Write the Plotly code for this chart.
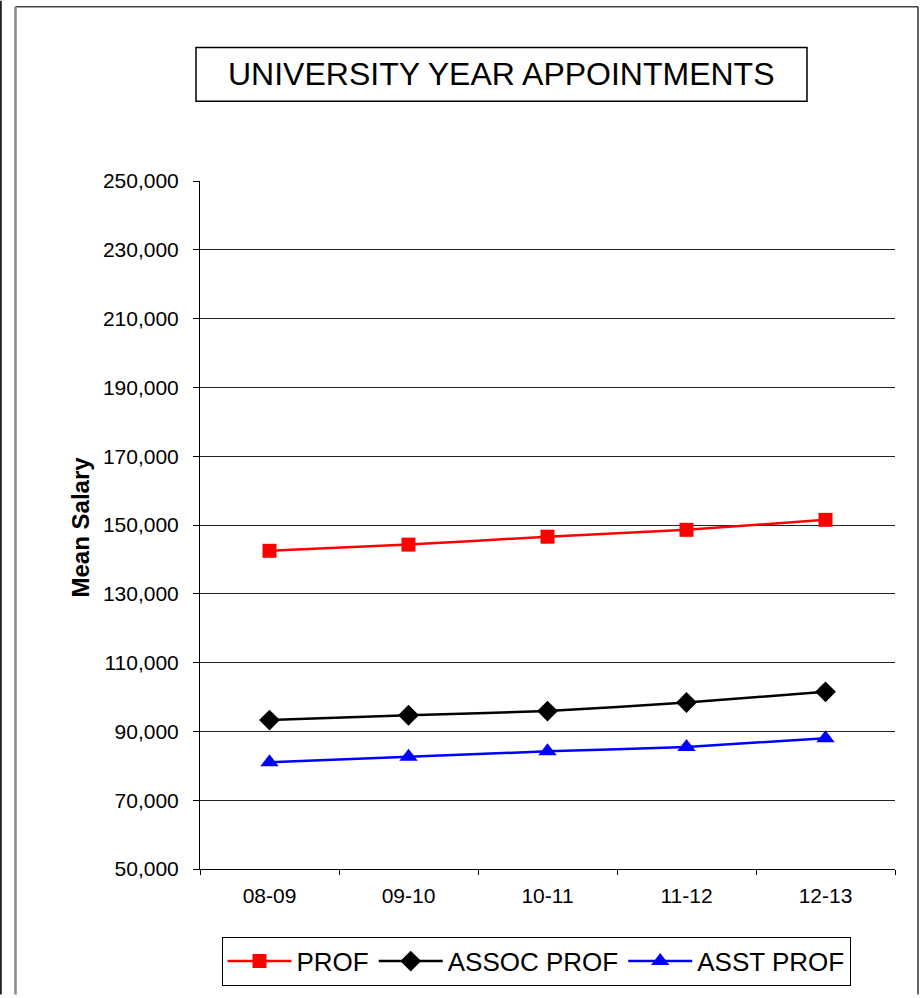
import plotly.graph_objects as go

years = ["08-09", "09-10", "10-11", "11-12", "12-13"]
prof = [142500, 144300, 146600, 148600, 151500]
assoc_prof = [93300, 94700, 95900, 98400, 101500]
asst_prof = [81000, 82600, 84200, 85500, 88000]
y_ticks = [50000, 70000, 90000, 110000, 130000, 150000, 170000, 190000, 210000, 230000, 250000]

W, H = 923, 998
L, R, T, B = 200, 28, 181, 126
PW, PH = W - L - R, H - T - B

def px(x):
    return (x - L) / PW

def py(y):
    return (H - B - y) / PH

FONT = "Liberation Sans, Arial, sans-serif"

fig = go.Figure()
series = [
    ("PROF", prof, "#FF0000", "square", 14),
    ("ASSOC PROF", assoc_prof, "#000000", "diamond", 16),
    ("ASST PROF", asst_prof, "#0000FF", "triangle-up", 16),
]
for name, vals, col, sym, sz in series:
    fig.add_trace(go.Scatter(
        x=years, y=vals, name=name, mode="lines+markers",
        line=dict(color=col, width=2.5, shape="spline", smoothing=0.4),
        marker=dict(symbol=sym, size=sz, color=col, line=dict(width=0)),
    ))

shapes = [
    dict(type="line", xref="paper", yref="paper", x0=px(0.8), x1=px(0.8), y0=py(0), y1=py(998),
         line=dict(color="#222222", width=2)),
    dict(type="line", xref="paper", yref="paper", x0=px(15.5), x1=px(918), y0=py(6), y1=py(6),
         line=dict(color="#444444", width=1.5)),
    dict(type="line", xref="paper", yref="paper", x0=px(918), x1=px(918), y0=py(6), y1=py(998),
         line=dict(color="#333333", width=1.5)),
    dict(type="line", xref="paper", yref="paper", x0=px(15.5), x1=px(15.5), y0=py(6), y1=py(998),
         line=dict(color="#888888", width=2.5)),
    dict(type="rect", xref="paper", yref="paper", x0=px(196), x1=px(807), y0=py(47), y1=py(101),
         line=dict(color="#000000", width=1.5), fillcolor="white"),
]

annotations = [
    dict(text="UNIVERSITY YEAR APPOINTMENTS", xref="paper", yref="paper",
         x=px(501.5), y=py(74), xanchor="center", yanchor="middle", showarrow=False,
         font=dict(family=FONT, size=32, color="black")),
    dict(text="<b>Mean Salary</b>", xref="paper", yref="paper",
         x=px(80), y=py(529), xanchor="center", yanchor="middle", showarrow=False,
         textangle=-90, font=dict(family=FONT, size=24, color="black")),
]

fig.update_layout(
    width=W, height=H,
    margin=dict(l=L, r=R, t=T, b=B, pad=0),
    paper_bgcolor="white", plot_bgcolor="white",
    font=dict(family=FONT, color="black"),
    shapes=shapes, annotations=annotations,
    showlegend=True,
    legend=dict(orientation="h", x=px(536), y=py(940), xanchor="center", yanchor="top",
                bordercolor="black", borderwidth=1, bgcolor="white",
                font=dict(family=FONT, size=26, color="black"),
                itemwidth=64, tracegroupgap=0),
)

fig.update_xaxes(
    type="category", range=[-0.5, 4.5],
    showline=True, linecolor="black", linewidth=1,
    ticks="outside", ticklen=5, tickcolor="black", tickson="boundaries",
    showgrid=False, zeroline=False,
    tickfont=dict(family=FONT, size=21, color="black"),
    ticklabelstandoff=8,
)
fig.update_yaxes(
    range=[50000, 250000], tickmode="array", tickvals=y_ticks,
    tickformat=",d",
    showline=True, linecolor="black", linewidth=1,
    ticks="outside", ticklen=6, tickcolor="black",
    showgrid=True, gridcolor="#222222", gridwidth=1, zeroline=False,
    tickfont=dict(family=FONT, size=21, color="black"),
    ticklabelstandoff=10,
)

fig.write_html("out.html", config={"displayModeBar": False},
               post_script="document.body.style.margin='0';document.body.style.padding='0';")
